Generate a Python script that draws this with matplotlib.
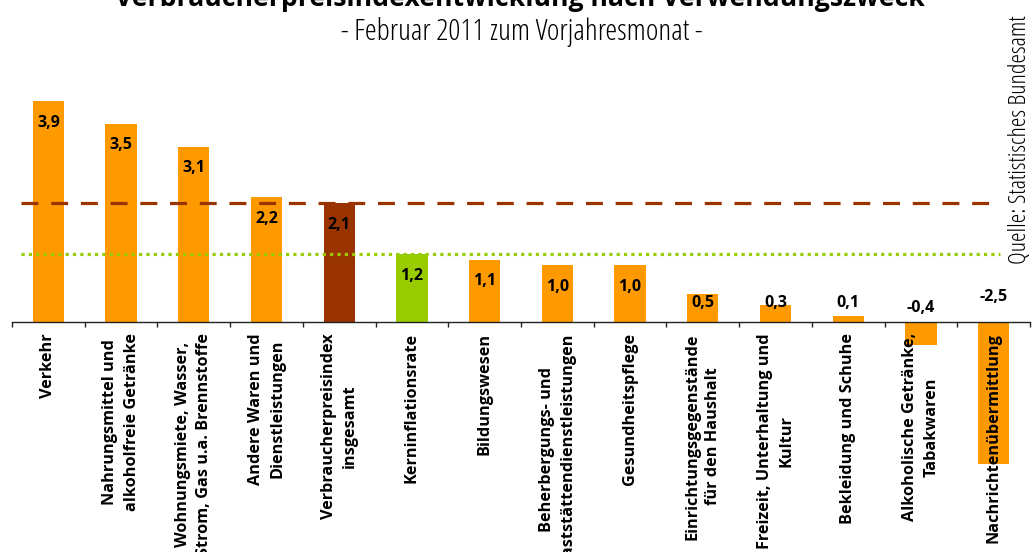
import matplotlib
matplotlib.use("Agg")
import matplotlib.pyplot as plt
from matplotlib.font_manager import FontProperties

categories = [
    "Verkehr",
    "Nahrungsmittel und\nalkoholfreie Getränke",
    "Wohnungsmiete, Wasser,\nStrom, Gas u.a. Brennstoffe",
    "Andere Waren und\nDienstleistungen",
    "Verbraucherpreisindex\ninsgesamt",
    "Kerninflationsrate",
    "Bildungswesen",
    "Beherbergungs- und\nGaststättendienstleistungen",
    "Gesundheitspflege",
    "Einrichtungsgegenstände\nfür den Haushalt",
    "Freizeit, Unterhaltung und\nKultur",
    "Bekleidung und Schuhe",
    "Alkoholische Getränke,\nTabakwaren",
    "Nachrichtenübermittlung",
]
values = [3.9, 3.5, 3.1, 2.2, 2.1, 1.2, 1.1, 1.0, 1.0, 0.5, 0.3, 0.1, -0.4, -2.5]
cpi_total = 2.1
core_inflation = 1.2

ORANGE = "#FF9900"
DARKRED = "#993300"
GREEN = "#99CC00"
colors = []
for c in categories:
    if c.startswith("Verbraucherpreisindex"):
        colors.append(DARKRED)
    elif c.startswith("Kerninflationsrate"):
        colors.append(GREEN)
    else:
        colors.append(ORANGE)

W, H = 1032, 552
fig = plt.figure(figsize=(W / 100, H / 100), dpi=100)
ax_left, ax_right = 12, 1030
ax_top, ax_bot = 60, 480
ax = fig.add_axes([ax_left / W, (H - ax_bot) / H, (ax_right - ax_left) / W, (ax_bot - ax_top) / H])
base = 322
ppu = 56.6
ax.set_ylim(-(ax_bot - base) / ppu, (base - ax_top) / ppu)
ax.set_xlim(-0.5, len(categories) - 0.5)

x = list(range(len(categories)))
ax.bar(x, values, width=0.43, color=colors, zorder=1)

# reference lines
xmin = (21 - ax_left) / (ax_right - ax_left)
xmax = (1000 - ax_left) / (ax_right - ax_left)
ax.axhline(cpi_total, xmin=xmin, xmax=xmax,
           color=DARKRED, lw=2.3, dashes=(5.3, 4.0), dash_capstyle="butt", zorder=3)
ax.axhline(core_inflation, xmin=xmin, xmax=xmax,
           color=GREEN, lw=2.3, dashes=(1.0, 1.3), dash_capstyle="butt", zorder=3)

# value labels
for xi, v in zip(x, values):
    if v >= 0:
        y = max(v - 0.38, 0.34)
    else:
        y = 0.2 - 0.1 * v
    ax.text(xi, y, f"{v:.1f}".replace(".", ","), ha="center", va="center",
            fontsize=11.5, fontweight="bold", family="Open Sans", color="black", zorder=4)

# axis styling
for s in ["top", "right", "left"]:
    ax.spines[s].set_visible(False)
ax.spines["bottom"].set_position(("data", 0))
ax.spines["bottom"].set_color("#222222")
ax.spines["bottom"].set_linewidth(1.0)
ax.set_yticks([])
ax.set_xticks([i - 0.5 for i in range(len(categories) + 1)])
ax.set_xticklabels([])
ax.tick_params(axis="x", which="major", direction="out", length=3.5, width=1.0, color="#222222")
ax.set_xticks(x, minor=True)
ax.set_xticklabels(categories, minor=True, rotation=90, ha="center", va="top",
                   fontsize=11.7, fontweight="bold", family="Open Sans", linespacing=1.45,
                   multialignment="center")
ax.tick_params(axis="x", which="minor", length=0, pad=8)

# titles
fig.text(520 / W, (H - 6) / H, "Verbraucherpreisindexentwicklung nach Verwendungszweck",
         ha="center", va="baseline", fontsize=19.2, fontweight="bold", family="Open Sans")
fig.text(522 / W, (H - 32) / H, "- Februar 2011 zum Vorjahresmonat -",
         ha="center", va="center",
         fontproperties=FontProperties(family="Open Sans", stretch="condensed", weight=300, size=21.7))
fig.text(1020 / W, (H - 140) / H, "Quelle: Statistisches Bundesamt", rotation=90,
         ha="center", va="center",
         fontproperties=FontProperties(family="Open Sans", stretch="condensed", weight=300, size=17.5))

fig.savefig("out.png", dpi=100)
